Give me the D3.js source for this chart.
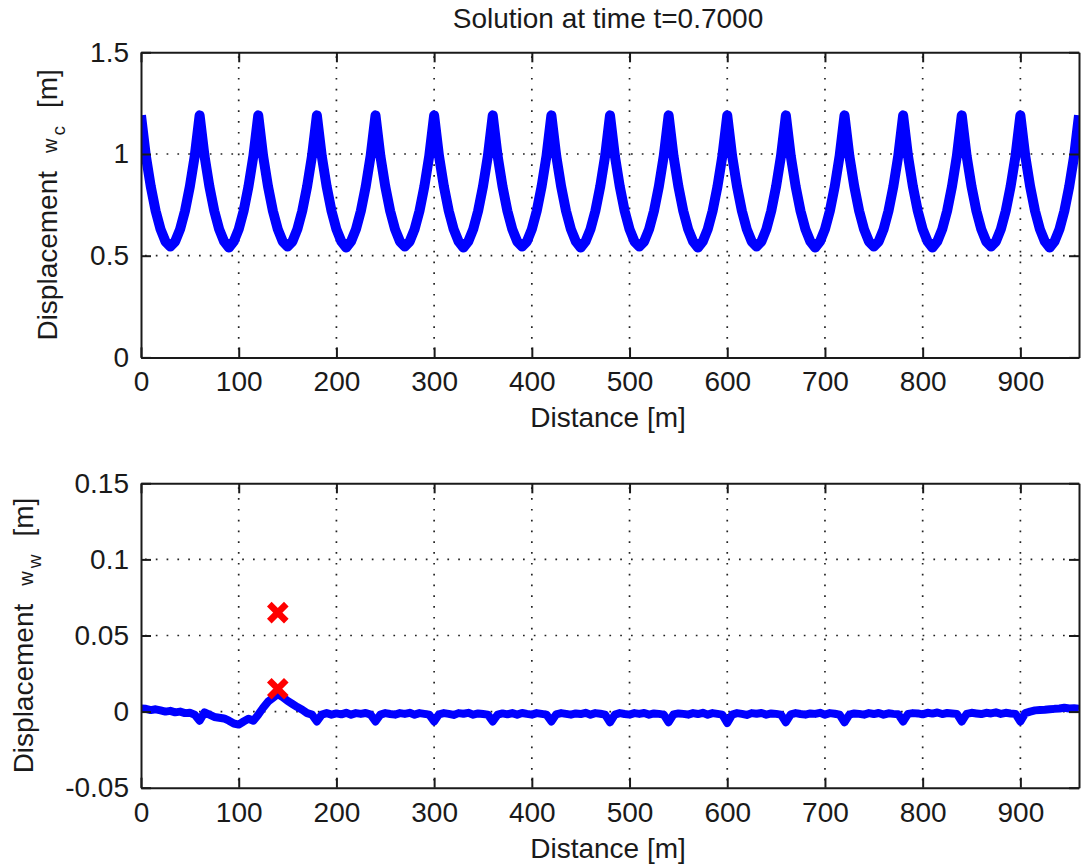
<!DOCTYPE html>
<html>
<head>
<meta charset="utf-8">
<script src="https://cdn.jsdelivr.net/npm/d3@7"></script>
<style>
  body { margin: 0; background: #fff; }
</style>
</head>
<body>
<svg id="chart"></svg>
<script>
// ---- data ----
const distance = [
  0, 5, 10, 15, 20, 25, 30, 35, 40, 45, 50, 55,
  60, 65, 70, 75, 80, 85, 90, 95, 100, 105, 110, 115,
  120, 125, 130, 135, 140, 145, 150, 155, 160, 165, 170, 175,
  180, 185, 190, 195, 200, 205, 210, 215, 220, 225, 230, 235,
  240, 245, 250, 255, 260, 265, 270, 275, 280, 285, 290, 295,
  300, 305, 310, 315, 320, 325, 330, 335, 340, 345, 350, 355,
  360, 365, 370, 375, 380, 385, 390, 395, 400, 405, 410, 415,
  420, 425, 430, 435, 440, 445, 450, 455, 460, 465, 470, 475,
  480, 485, 490, 495, 500, 505, 510, 515, 520, 525, 530, 535,
  540, 545, 550, 555, 560, 565, 570, 575, 580, 585, 590, 595,
  600, 605, 610, 615, 620, 625, 630, 635, 640, 645, 650, 655,
  660, 665, 670, 675, 680, 685, 690, 695, 700, 705, 710, 715,
  720, 725, 730, 735, 740, 745, 750, 755, 760, 765, 770, 775,
  780, 785, 790, 795, 800, 805, 810, 815, 820, 825, 830, 835,
  840, 845, 850, 855, 860, 865, 870, 875, 880, 885, 890, 895,
  900, 905, 910, 915, 920, 925, 930, 935, 940, 945, 950, 955,
  960
];

// contact wire displacement w_c [m]
const wContact = [
  1.19, 0.99, 0.84, 0.72, 0.63, 0.57, 0.545, 0.57, 0.63, 0.72, 0.84, 0.99,
  1.19, 0.99, 0.84, 0.72, 0.63, 0.57, 0.54, 0.57, 0.63, 0.72, 0.84, 0.99,
  1.19, 0.99, 0.84, 0.72, 0.63, 0.57, 0.545, 0.57, 0.63, 0.72, 0.84, 0.99,
  1.19, 0.99, 0.84, 0.72, 0.63, 0.57, 0.54, 0.57, 0.63, 0.72, 0.84, 0.99,
  1.19, 0.99, 0.84, 0.72, 0.63, 0.57, 0.545, 0.57, 0.63, 0.72, 0.84, 0.99,
  1.19, 0.99, 0.84, 0.72, 0.63, 0.57, 0.54, 0.57, 0.63, 0.72, 0.84, 0.99,
  1.19, 0.99, 0.84, 0.72, 0.63, 0.57, 0.545, 0.57, 0.63, 0.72, 0.84, 0.99,
  1.19, 0.99, 0.84, 0.72, 0.63, 0.57, 0.54, 0.57, 0.63, 0.72, 0.84, 0.99,
  1.19, 0.99, 0.84, 0.72, 0.63, 0.57, 0.545, 0.57, 0.63, 0.72, 0.84, 0.99,
  1.19, 0.99, 0.84, 0.72, 0.63, 0.57, 0.54, 0.57, 0.63, 0.72, 0.84, 0.99,
  1.19, 0.99, 0.84, 0.72, 0.63, 0.57, 0.545, 0.57, 0.63, 0.72, 0.84, 0.99,
  1.19, 0.99, 0.84, 0.72, 0.63, 0.57, 0.54, 0.57, 0.63, 0.72, 0.84, 0.99,
  1.19, 0.99, 0.84, 0.72, 0.63, 0.57, 0.545, 0.57, 0.63, 0.72, 0.84, 0.99,
  1.19, 0.99, 0.84, 0.72, 0.63, 0.57, 0.54, 0.57, 0.63, 0.72, 0.84, 0.99,
  1.19, 0.99, 0.84, 0.72, 0.63, 0.57, 0.545, 0.57, 0.63, 0.72, 0.84, 0.99,
  1.19, 0.99, 0.84, 0.72, 0.63, 0.57, 0.54, 0.57, 0.63, 0.72, 0.84, 0.99,
  1.19
];

// messenger wire displacement w_w [m]
const wMessenger = [
  0.002, 0.0018, 0.001, 0.0015, 0.0008, 0.0, 0.0005, -0.0005, 0.0, -0.001, -0.0008, -0.002,
  -0.006, -0.0005, -0.002, -0.0035, -0.004, -0.0045, -0.006, -0.0078, -0.0085, -0.0065, -0.0047, -0.006,
  -0.002, 0.0025, 0.0065, 0.009, 0.0115, 0.0095, 0.007, 0.005, 0.003, 0.0012, -0.001, -0.002,
  -0.0065, -0.002, -0.001, -0.002, -0.0012, -0.0018, -0.0008, -0.002, -0.001, -0.0015, -0.0009, -0.002,
  -0.0065, -0.002, -0.001, -0.0016, -0.002, -0.001, -0.0015, -0.0008, -0.002, -0.001, -0.0015, -0.002,
  -0.0065, -0.0018, -0.001, -0.0015, -0.0022, -0.001, -0.0014, -0.0008, -0.002, -0.0012, -0.0016, -0.002,
  -0.0065, -0.002, -0.0012, -0.0018, -0.001, -0.002, -0.0009, -0.0015, -0.002, -0.001, -0.0015, -0.002,
  -0.0065, -0.0018, -0.001, -0.0015, -0.002, -0.0012, -0.0016, -0.0008, -0.002, -0.001, -0.0014, -0.002,
  -0.007, -0.002, -0.001, -0.0016, -0.002, -0.001, -0.0015, -0.0009, -0.002, -0.0012, -0.0015, -0.002,
  -0.007, -0.0018, -0.0012, -0.0015, -0.002, -0.001, -0.0016, -0.0008, -0.002, -0.001, -0.0015, -0.002,
  -0.0075, -0.002, -0.001, -0.0015, -0.0022, -0.001, -0.0014, -0.0009, -0.002, -0.0012, -0.0015, -0.002,
  -0.007, -0.0018, -0.001, -0.0016, -0.002, -0.0012, -0.0015, -0.0008, -0.002, -0.001, -0.0014, -0.002,
  -0.007, -0.002, -0.0012, -0.0015, -0.002, -0.001, -0.0016, -0.0009, -0.002, -0.0011, -0.0015, -0.0018,
  -0.0065, -0.0015, -0.001, -0.0012, -0.0018, -0.0008, -0.0013, -0.0006, -0.0016, -0.0009, -0.0012, -0.0015,
  -0.0065, -0.0015, -0.0008, -0.0012, -0.0016, -0.0008, -0.0012, -0.0005, -0.0015, -0.0008, -0.0012, -0.0015,
  -0.0065, -0.001, 0.0, 0.0008, 0.001, 0.0012, 0.0015, 0.0018, 0.002, 0.0025, 0.002, 0.0022,
  0.0018
];

// red cross markers (pantograph positions)
const markerDistance = [140, 140];
const markerValue = [0.065, 0.015];

const xTickValues = [0, 100, 200, 300, 400, 500, 600, 700, 800, 900];
const topYTicks = [0, 0.5, 1, 1.5];
const topYTickLabels = ["0", "0.5", "1", "1.5"];
const bottomYTicks = [-0.05, 0, 0.05, 0.1, 0.15];
const bottomYTickLabels = ["-0.05", "0", "0.05", "0.1", "0.15"];

const titleText = "Solution at time t=0.7000";
const xLabelText = "Distance [m]";

// ---- layout ----
const width = 1081, height = 868;
const plotLeft = 141, plotRight = 1079;
const fontFamily = "'Liberation Sans', Arial, Helvetica, sans-serif";
const textColor = "#1a1a1a";

const svg = d3.select("#chart")
    .attr("width", width)
    .attr("height", height)
    .attr("font-family", fontFamily);

svg.append("rect")
    .attr("width", width)
    .attr("height", height)
    .attr("fill", "#ffffff");

function drawPanel(cfg) {
    const xScale = d3.scaleLinear().domain([0, 960]).range([plotLeft, plotRight]);
    const yScale = d3.scaleLinear().domain(cfg.yDomain).range([cfg.bottom, cfg.top]);
    const g = svg.append("g");

    // Clip so the thick line stays inside the box
    g.append("clipPath")
        .attr("id", cfg.id + "-clip")
        .append("rect")
        .attr("x", plotLeft)
        .attr("y", cfg.top)
        .attr("width", plotRight - plotLeft)
        .attr("height", cfg.bottom - cfg.top);

    // Dotted grid
    const grid = g.append("g")
        .attr("stroke", "#222")
        .attr("stroke-width", 1.7)
        .attr("stroke-dasharray", "1.7,9.1");

    grid.selectAll("line.vx")
        .data(xTickValues.filter(d => d > 0))
        .join("line")
        .attr("class", "vx")
        .attr("x1", d => xScale(d))
        .attr("x2", d => xScale(d))
        .attr("y1", cfg.top + 4)
        .attr("y2", cfg.bottom);

    grid.selectAll("line.hy")
        .data(cfg.yTicks.filter(d => d !== cfg.yDomain[0] && d !== cfg.yDomain[1]))
        .join("line")
        .attr("class", "hy")
        .attr("x1", plotLeft + 4)
        .attr("x2", plotRight)
        .attr("y1", d => yScale(d))
        .attr("y2", d => yScale(d));

    // Data line
    const line = d3.line()
        .x((d, i) => xScale(distance[i]))
        .y(d => yScale(d));

    g.append("path")
        .datum(cfg.values)
        .attr("clip-path", `url(#${cfg.id}-clip)`)
        .attr("fill", "none")
        .attr("stroke", "#0000ff")
        .attr("stroke-width", cfg.lineWidth)
        .attr("stroke-linejoin", "round")
        .attr("stroke-linecap", "butt")
        .attr("d", line);

    // Cross markers
    if (cfg.markers) {
        g.append("g")
            .selectAll("path")
            .data(markerValue)
            .join("path")
            .attr("transform", (d, i) => `translate(${xScale(markerDistance[i])},${yScale(d)})`)
            .attr("d", "M-8.5,-8.5L8.5,8.5M-8.5,8.5L8.5,-8.5")
            .attr("fill", "none")
            .attr("stroke", "#ff0000")
            .attr("stroke-width", 6.5);
    }

    // Axes: ticks point inwards on all four sides
    const styleAxis = (sel) => {
        sel.attr("font-size", 28)
            .attr("font-family", fontFamily)
            .style("color", textColor);
        sel.select(".domain").attr("stroke-width", 2);
        sel.selectAll(".tick line").attr("stroke-width", 2);
    };

    g.append("g")
        .attr("transform", `translate(0,${cfg.bottom})`)
        .call(d3.axisBottom(xScale).tickValues(xTickValues).tickSize(-10).tickSizeOuter(0).tickPadding(14)
            .tickFormat(d => String(d)))
        .call(styleAxis);

    g.append("g")
        .attr("transform", `translate(0,${cfg.top})`)
        .call(d3.axisTop(xScale).tickValues(xTickValues).tickSize(-10).tickSizeOuter(0).tickFormat(""))
        .call(styleAxis);

    g.append("g")
        .attr("transform", `translate(${plotLeft},0)`)
        .call(d3.axisLeft(yScale).tickValues(cfg.yTicks).tickSize(-10).tickSizeOuter(0).tickPadding(12)
            .tickFormat((d, i) => cfg.yTickLabels[i]))
        .call(styleAxis);

    g.append("g")
        .attr("transform", `translate(${plotRight},0)`)
        .call(d3.axisRight(yScale).tickValues(cfg.yTicks).tickSize(-10).tickSizeOuter(0).tickFormat(""))
        .call(styleAxis);

    // X label
    g.append("text")
        .attr("x", (plotLeft + plotRight) / 2 - 2)
        .attr("y", cfg.bottom + 70)
        .attr("text-anchor", "middle")
        .attr("font-size", 28)
        .attr("fill", textColor)
        .text(xLabelText);

    // Y label with subscript
    const yl = g.append("text")
        .attr("transform", `translate(${cfg.yLabelX},${(cfg.top + cfg.bottom) / 2}) rotate(-90)`)
        .attr("text-anchor", "middle")
        .attr("font-size", 28)
        .attr("fill", textColor);
    yl.append("tspan").text("Displacement");
    yl.append("tspan").attr("dx", 18).attr("font-size", 20).text("w");
    yl.append("tspan").attr("dx", 3).attr("dy", 8).attr("font-size", 19).text(cfg.subscript);
    yl.append("tspan").attr("dx", 18).attr("dy", -8).text("[m]");

    return g;
}

// Title
svg.append("text")
    .attr("x", (plotLeft + plotRight) / 2 - 2)
    .attr("y", 28)
    .attr("text-anchor", "middle")
    .attr("font-size", 28)
    .attr("fill", textColor)
    .text(titleText);

drawPanel({
    id: "top",
    top: 52.3,
    bottom: 357.4,
    yDomain: [0, 1.5],
    yTicks: topYTicks,
    yTickLabels: topYTickLabels,
    values: wContact,
    lineWidth: 10,
    yLabelX: 57,
    subscript: "c",
    markers: false
});

drawPanel({
    id: "bottom",
    top: 483.3,
    bottom: 787.7,
    yDomain: [-0.05, 0.15],
    yTicks: bottomYTicks,
    yTickLabels: bottomYTickLabels,
    values: wMessenger,
    lineWidth: 8,
    yLabelX: 33,
    subscript: "w",
    markers: true
});
</script>
</body>
</html>
